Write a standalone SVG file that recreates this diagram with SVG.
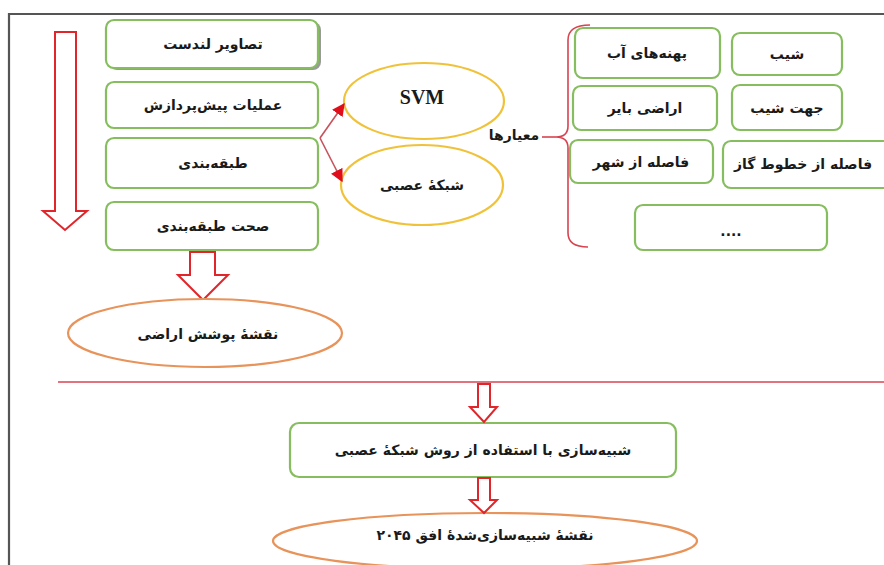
<svg xmlns="http://www.w3.org/2000/svg" width="884" height="565" viewBox="0 0 884 565">
<defs>
<style>
.box{fill:#fff;stroke:#86bd5e;stroke-width:2.2}
.t{font-family:"DejaVu Sans",sans-serif;font-weight:bold;font-size:14px;fill:#1a1a1a;text-anchor:middle;direction:rtl}
.hol{fill:#fff;stroke:#e0262b;stroke-width:2}
.ey{fill:#fff;stroke:#f0c23a;stroke-width:2.2}
.eo{fill:#fff;stroke:#e8935a;stroke-width:2.2}
.con{stroke:#c8525c;stroke-width:1.6;fill:none}
</style>
<marker id="ah" viewBox="0 0 10 10" refX="9" refY="5" markerWidth="8" markerHeight="8" orient="auto" markerUnits="strokeWidth">
<path d="M0,0 L10,5 L0,10 z" fill="#e00e1a"/>
</marker>
</defs>
<rect width="884" height="565" fill="#fff"/>
<path d="M9,565 L9,14 L884,14" fill="none" stroke="#555" stroke-width="2.2"/>

<g id="flow-arrow">
<path class="hol" d="M55,32 L76,32 L76,211 L87,211 L65,230 L43,211 L55,211 Z"/>
</g>

<g id="n-landsat">
<rect x="109" y="22" width="212" height="48" rx="8" fill="#9a9a9a"/>
<rect class="box" x="106" y="20" width="212" height="48" rx="8"/>
<text class="t" x="213" y="49">تصاویر لندست</text>
</g>
<g id="n-preprocess">
<rect class="box" x="106" y="82" width="212" height="46" rx="8"/>
<text class="t" x="213" y="110">عملیات پیش‌پردازش</text>
</g>
<g id="n-classify">
<rect class="box" x="106" y="138" width="212" height="50" rx="8"/>
<text class="t" x="213" y="168">طبقه‌بندی</text>
</g>
<g id="n-accuracy">
<rect class="box" x="106" y="202" width="212" height="48" rx="8"/>
<text class="t" x="213" y="231">صحت طبقه‌بندی</text>
</g>

<g id="n-svm">
<ellipse class="ey" cx="424" cy="101" rx="80" ry="38"/>
<text x="422" y="104" font-family="Liberation Serif, serif" font-weight="bold" font-size="20" text-anchor="middle" fill="#1a1a1a">SVM</text>
</g>
<g id="n-ann">
<ellipse class="ey" cx="422" cy="185" rx="81" ry="40"/>
<text class="t" x="422" y="190">شبکهٔ عصبی</text>
</g>

<g id="n-criteria">
<text class="t" x="514" y="140" font-size="15">معیارها</text>
</g>

<g id="n-water">
<rect class="box" x="575" y="28" width="145" height="50" rx="8"/>
<text class="t" x="647" y="58">پهنه‌های آب</text>
</g>
<g id="n-slope">
<rect class="box" x="732" y="33" width="110" height="42" rx="8"/>
<text class="t" x="787" y="59">شیب</text>
</g>
<g id="n-barren">
<rect class="box" x="573" y="86" width="144" height="44" rx="8"/>
<text class="t" x="645" y="113">اراضی بایر</text>
</g>
<g id="n-aspect">
<rect class="box" x="732" y="85" width="110" height="45" rx="8"/>
<text class="t" x="787" y="113">جهت شیب</text>
</g>
<g id="n-city">
<rect class="box" x="570" y="140" width="143" height="43" rx="8"/>
<text class="t" x="641" y="167">فاصله از شهر</text>
</g>
<g id="n-gas">
<rect class="box" x="723" y="141" width="170" height="47" rx="8"/>
<text class="t" x="803" y="169">فاصله از خطوط گاز</text>
</g>
<g id="n-etc">
<rect class="box" x="635" y="205" width="192" height="45" rx="8"/>
<text class="t" x="731" y="236" font-size="11">....</text>
</g>

<g id="n-landcover">
<path class="hol" d="M190,252 L215,252 L215,275 L228,275 L203,300 L178,275 L190,275 Z"/>
<ellipse class="eo" cx="205" cy="333" rx="137" ry="34"/>
<text class="t" x="208" y="339" font-size="16">نقشهٔ پوشش اراضی</text>
</g>

<g id="n-sim">
<rect class="box" x="290" y="423" width="386" height="54" rx="9"/>
<text class="t" x="483" y="455">شبیه‌سازی با استفاده از روش شبکهٔ عصبی</text>
</g>
<g id="n-simmap">
<ellipse class="eo" cx="485" cy="541" rx="212" ry="28"/>
<text class="t" x="485" y="540">نقشهٔ شبیه‌سازی‌شدهٔ افق ۲۰۴۵</text>
</g>

<g id="connectors">
<path class="con" d="M320,138 L344,104" marker-end="url(#ah)"/>
<path class="con" d="M320,138 L342,181" marker-end="url(#ah)"/>
<path d="M542,137 L556,137" stroke="#d9434f" stroke-width="1.6" fill="none"/>
<path d="M590,25 Q568,25 568,40 L568,126 Q568,137 556,137 Q568,137 568,148 L568,233 Q568,247 588,247" stroke="#d9434f" stroke-width="1.6" fill="none"/>
<line x1="58" y1="382" x2="884" y2="382" stroke="#d9434f" stroke-width="1.6"/>
<path class="hol" d="M478,384 L490,384 L490,407 L497,407 L484,422 L470,407 L478,407 Z"/>
<path class="hol" d="M478,478 L490,478 L490,500 L497,500 L484,513 L470,500 L478,500 Z"/>
</g>
</svg>
